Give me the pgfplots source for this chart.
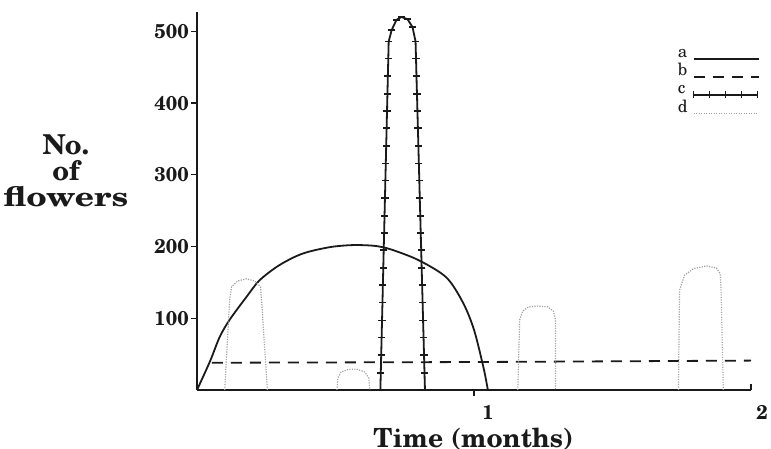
\documentclass[border=0pt]{standalone}
\usepackage{fontspec}
\setmainfont{TeX Gyre Schola}
\usepackage{pgfplots}
\pgfplotsset{compat=1.18}
\definecolor{ink}{HTML}{1A1A1A}
\definecolor{faint}{HTML}{A0A0A0}
\pgfplotsset{
  legline/.style={legend image code/.code={\draw[##1] (0bp,-5bp) -- (65bp,-5bp);}},
  legtick/.style={legend image code/.code={\draw[##1, mark=|] plot coordinates {(0bp,-5bp) (16bp,-5bp) (32bp,-5bp) (48bp,-5bp) (64bp,-5bp)};}},
}
\begin{document}
\begin{tikzpicture}
\useasboundingbox (-197bp,-59bp) rectangle (574bp,390bp);
\begin{axis}[
  at={(0,0)}, anchor=origin,
  scale only axis, width=554bp, height=378bp,
  xmin=0, xmax=2, ymin=0, ymax=527,
  axis x line=bottom, axis y line=left,
  axis line style={-, line width=1.5bp, ink},
  xtick={1}, ytick={100,200,300,400,500},
  extra x ticks={2},
  extra x tick style={tick align=inside, xticklabel style={yshift=-6bp, xshift=-3bp}},
  tick align=outside, major tick length=6bp,
  tick style={line width=1.2bp, ink},
  /pgf/number format/assume math mode=true,
  yticklabel style={font=\fontsize{20}{20}\selectfont\bfseries, inner sep=2bp, text=ink},
  xticklabel style={font=\fontsize{20}{20}\selectfont\bfseries, inner sep=0pt, anchor=north, yshift=-9bp, xshift=14bp, text=ink},
  xlabel={Time (months)},
  xlabel style={font=\fontsize{26.5}{26.5}\selectfont\bfseries, inner sep=0pt, at={(rel axis cs:0.499,-0.1525)}, anchor=base, text=ink},
  ylabel={No.\\of\\\scalebox{1.22}[1]{flowers}},
  ylabel style={font=\fontsize{27.5}{26}\selectfont\bfseries, align=center, rotate=-90, at={(rel axis cs:-0.2365,0.579)}, anchor=center, text=ink},
  clip=false,
  legend style={at={(rel axis cs:0.866,0.91)}, anchor=north west, draw=none, fill=none,
    font=\fontsize{17}{17}\selectfont, row sep=3bp, column sep=4bp, inner sep=0pt,
    nodes={inner sep=1bp, text height=10bp, text depth=3bp, text=ink}},
  legend cell align=left,
  legend plot pos=right,
]
% a
\addplot[ink, line width=1.8bp, smooth, legline]
  coordinates {(0,0) (0.047,40) (0.082,74) (0.118,98) (0.179,130) (0.226,153) (0.297,174) (0.38,190) (0.477,199) (0.56,202) (0.64,201) (0.70,196) (0.80,181) (0.90,157) (0.96,122) (1.0,84) (1.035,30) (1.05,0)};
\addlegendentry{a}
% b
\addplot[ink, line width=1.8bp, dash pattern=on 11bp off 8bp, legline]
  coordinates {(0.054,38) (1.0,39) (2.0,41)};
\addlegendentry{b}
% c
\addplot[ink, line width=1.8bp, mark=-, mark size=3.6bp, mark options={solid, line width=1.6bp}, legtick]
  coordinates {(0.662,0) (0.6635,24) (0.665,49) (0.6665,73) (0.668,97) (0.6696,122) (0.671,146) (0.6725,170) (0.674,195) (0.6756,219) (0.677,243) (0.6786,268) (0.680,292) (0.6816,316) (0.683,340) (0.6846,365) (0.686,389) (0.6876,413) (0.689,438) (0.6906,462) (0.692,486)
   (0.703,502) (0.720,516) (0.738,520) (0.760,517) (0.778,506)
   (0.789,486) (0.7907,462) (0.7923,438) (0.7941,413) (0.7958,389) (0.7975,365) (0.7992,340) (0.8009,316) (0.8026,292) (0.8042,268) (0.806,243) (0.8077,219) (0.8094,195) (0.8111,170) (0.8128,146) (0.8145,122) (0.8162,97) (0.8179,73) (0.8196,49) (0.8213,24) (0.823,0)};
\addlegendentry{c}
% d
\addplot[faint, line width=1.2bp, dash pattern=on 1.2bp off 1.3bp, legline]
  coordinates {(0.100,0) (0.118,126) (0.125,144) (0.147,152) (0.179,155) (0.208,152) (0.229,144) (0.233,126) (0.254,0)};
\addlegendentry{d}
\addplot[faint, line width=1.2bp, dash pattern=on 1.2bp off 1.3bp, forget plot]
  coordinates {(0.505,0) (0.509,17) (0.520,25) (0.548,29) (0.577,29) (0.606,25) (0.620,17) (0.624,0)};
\addplot[faint, line width=1.2bp, dash pattern=on 1.2bp off 1.3bp, forget plot]
  coordinates {(1.158,0) (1.165,98) (1.176,110) (1.197,116) (1.229,117) (1.265,116) (1.287,110) (1.294,98) (1.294,0)};
\addplot[faint, line width=1.2bp, dash pattern=on 1.2bp off 1.3bp, forget plot]
  coordinates {(1.738,0) (1.742,139) (1.760,160) (1.792,169) (1.839,173) (1.875,170) (1.889,162) (1.892,139) (1.900,0)};
\end{axis}
\end{tikzpicture}
\end{document}
